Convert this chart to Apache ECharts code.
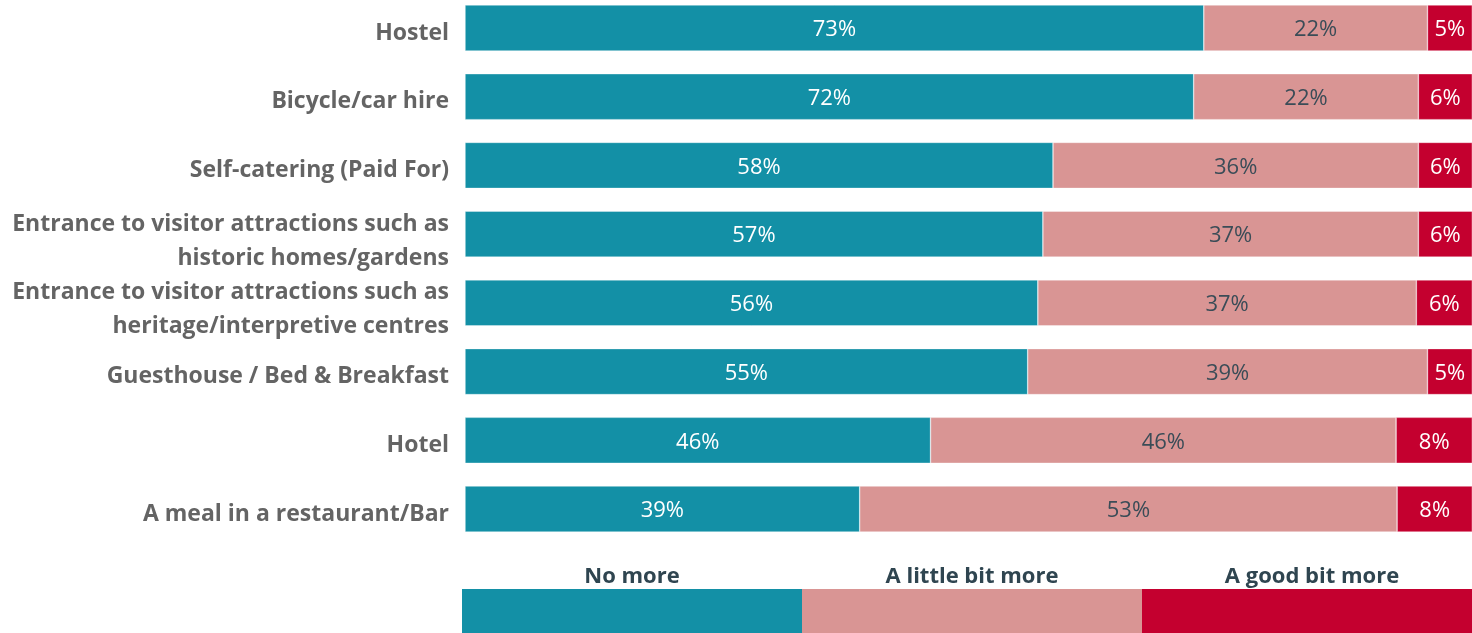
<!DOCTYPE html>
<html>
<head>
<meta charset="utf-8">
<script src="https://cdn.jsdelivr.net/npm/echarts@6/dist/echarts.min.js"></script>
<style>
html,body{margin:0;padding:0;background:#fff;}
#chart{width:1472px;height:633px;}
</style>
</head>
<body>
<div id="chart"></div>
<script>
var categories = [
  'Hostel',
  'Bicycle/car hire',
  'Self-catering (Paid For)',
  'Entrance to visitor attractions such as\nhistoric homes/gardens',
  'Entrance to visitor attractions such as\nheritage/interpretive centres',
  'Guesthouse / Bed & Breakfast',
  'Hotel',
  'A meal in a restaurant/Bar'
];
var seriesNames = ['No more', 'A little bit more', 'A good bit more'];
var noMore       = [73.0, 72.0, 58.1, 57.1, 56.6, 55.6, 46.0, 39.0];
var littleMore   = [22.1, 22.2, 36.1, 37.1, 37.4, 39.5, 46.0, 53.1];
var goodBitMore  = [4.9, 5.8, 5.8, 5.8, 6.0, 4.9, 8.0, 7.9];
var noMoreLabels     = ['73%', '72%', '58%', '57%', '56%', '55%', '46%', '39%'];
var littleMoreLabels = ['22%', '22%', '36%', '37%', '37%', '39%', '46%', '53%'];
var goodBitLabels    = ['5%', '6%', '6%', '6%', '6%', '5%', '8%', '8%'];
var colors = ['#1390A6', '#D99594', '#C4002F'];
var labelColors = ['#ffffff', '#3A4C57', '#ffffff'];

var FONT = 'Open Sans';
var chart = echarts.init(document.getElementById('chart'), null, {renderer: 'canvas'});

function mkSeries(i, data, labels) {
  return {
    name: seriesNames[i],
    type: 'bar',
    stack: 'total',
    barWidth: 46,
    data: data,
    itemStyle: {color: colors[i], borderColor: 'rgba(255,255,255,0.6)', borderWidth: 0.6},
    label: {
      show: true,
      position: 'inside',
      offset: [0, 2],
      color: labelColors[i],
      fontFamily: FONT,
      fontSize: 22,
      formatter: function (p) { return labels[p.dataIndex]; }
    },
    emphasis: {disabled: true}
  };
}

var legendLeft = 462, legendTop = 589, legendH = 44, legendW = 340;
var graphics = [];
seriesNames.forEach(function (n, i) {
  graphics.push({
    type: 'rect',
    shape: {x: legendLeft + i * legendW, y: legendTop, width: legendW + (i < 2 ? 0.5 : 0), height: legendH},
    style: {fill: colors[i]}
  });
  graphics.push({
    type: 'text',
    x: legendLeft + i * legendW + legendW / 2,
    y: 577,
    style: {
      text: n, fill: '#2F4550', font: 'bold 22px ' + FONT,
      textAlign: 'center', textVerticalAlign: 'middle'
    }
  });
});

chart.setOption({
  animation: false,
  backgroundColor: '#ffffff',
  grid: {left: 465, right: 0, top: -6.4, height: 549.8, containLabel: false, outerBoundsMode: 'none'},
  xAxis: {
    type: 'value', min: 0, max: 99.5,
    show: false
  },
  yAxis: {
    type: 'category',
    inverse: true,
    data: categories,
    axisLine: {show: false},
    axisTick: {show: false},
    splitLine: {show: false},
    axisLabel: {
      margin: 16,
      align: 'right',
      formatter: function (v) {
        var lines = v.split('\n');
        var pad = lines.length > 1 ? '{s2| }' : '{s1| }';
        return pad + '\n' + lines.map(function (l) { return '{a|' + l + '}'; }).join('\n');
      },
      rich: {
        a: {color: '#646464', fontFamily: FONT, fontWeight: 'bold', fontSize: 23, lineHeight: 34},
        s1: {fontSize: 1, lineHeight: 10},
        s2: {fontSize: 1, lineHeight: 14}
      }
    }
  },
  series: [
    mkSeries(0, noMore, noMoreLabels),
    mkSeries(1, littleMore, littleMoreLabels),
    mkSeries(2, goodBitMore, goodBitLabels)
  ],
  graphic: graphics
});
</script>
</body>
</html>
